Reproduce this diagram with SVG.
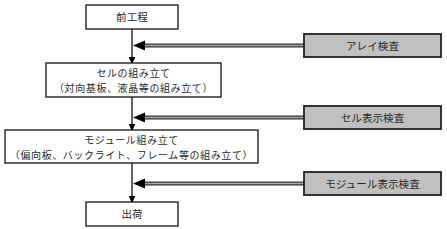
<svg xmlns="http://www.w3.org/2000/svg" width="447" height="229" viewBox="0 0 447 229">
<style>
.box{fill:#fff;stroke:#111;stroke-width:1.3}
.gbox{fill:#c0c0c0;stroke:#222;stroke-width:1.8}
.t{font-family:"Noto Sans CJK JP","Noto Sans",sans-serif;font-size:10.6px;fill:#2a2a2a;text-anchor:middle}
.t2{font-size:10px;letter-spacing:0.6px}
.vl{stroke:#111;stroke-width:1.3;fill:none}
.dlo{stroke:#333;stroke-width:4;fill:none}
.dli{stroke:#a8a8a8;stroke-width:1.6;fill:none}
.ah{fill:#000}
</style>
<defs>
<marker id="va" markerWidth="7" markerHeight="7" refX="6" refY="3.5" orient="auto" markerUnits="userSpaceOnUse">
<path d="M0,0 L7,3.5 L0,7 Z" fill="#000"/>
</marker>
</defs>
<g id="connectors">
<line class="vl" x1="132" y1="29" x2="132" y2="63" marker-end="url(#va)"/>
<line class="vl" x1="132" y1="97" x2="132" y2="130" marker-end="url(#va)"/>
<line class="vl" x1="132" y1="163" x2="132" y2="202" marker-end="url(#va)"/>
<line class="dlo" x1="143" y1="45.5" x2="304" y2="45.5"/>
<line class="dli" x1="143" y1="45.5" x2="304" y2="45.5"/>
<polygon class="ah" points="133,45.5 145,40.5 145,50.5"/>
<line class="dlo" x1="143" y1="117.5" x2="304" y2="117.5"/>
<line class="dli" x1="143" y1="117.5" x2="304" y2="117.5"/>
<polygon class="ah" points="133,117.5 145,112.5 145,122.5"/>
<line class="dlo" x1="143" y1="183.5" x2="304" y2="183.5"/>
<line class="dli" x1="143" y1="183.5" x2="304" y2="183.5"/>
<polygon class="ah" points="133,183.5 145,178.5 145,188.5"/>
</g>
<g id="n1">
<rect class="box" x="86" y="5" width="92" height="24"/>
<text class="t" x="132" y="21">前工程</text>
</g>
<g id="n2">
<rect class="box" x="46" y="63" width="175" height="34"/>
<text class="t t2" x="133.5" y="77">セルの組み立て</text>
<text class="t t2" x="133.5" y="91.5">（対向基板、液晶等の組み立て）</text>
</g>
<g id="n3">
<rect class="box" x="5" y="130" width="253" height="33"/>
<text class="t t2" x="131.5" y="144">モジュール組み立て</text>
<text class="t t2" x="131.5" y="158.5">（偏向板、バックライト、フレーム等の組み立て）</text>
</g>
<g id="n4">
<rect class="box" x="86" y="202" width="92" height="24"/>
<text class="t" x="132" y="218">出荷</text>
</g>
<g id="i1">
<rect class="gbox" x="304" y="34" width="137" height="23"/>
<text class="t" x="372.5" y="49.5">アレイ検査</text>
</g>
<g id="i2">
<rect class="gbox" x="304" y="106" width="137" height="23"/>
<text class="t" x="372.5" y="121.5">セル表示検査</text>
</g>
<g id="i3">
<rect class="gbox" x="304" y="172" width="137" height="23"/>
<text class="t" x="372.5" y="187.5">モジュール表示検査</text>
</g>
</svg>
